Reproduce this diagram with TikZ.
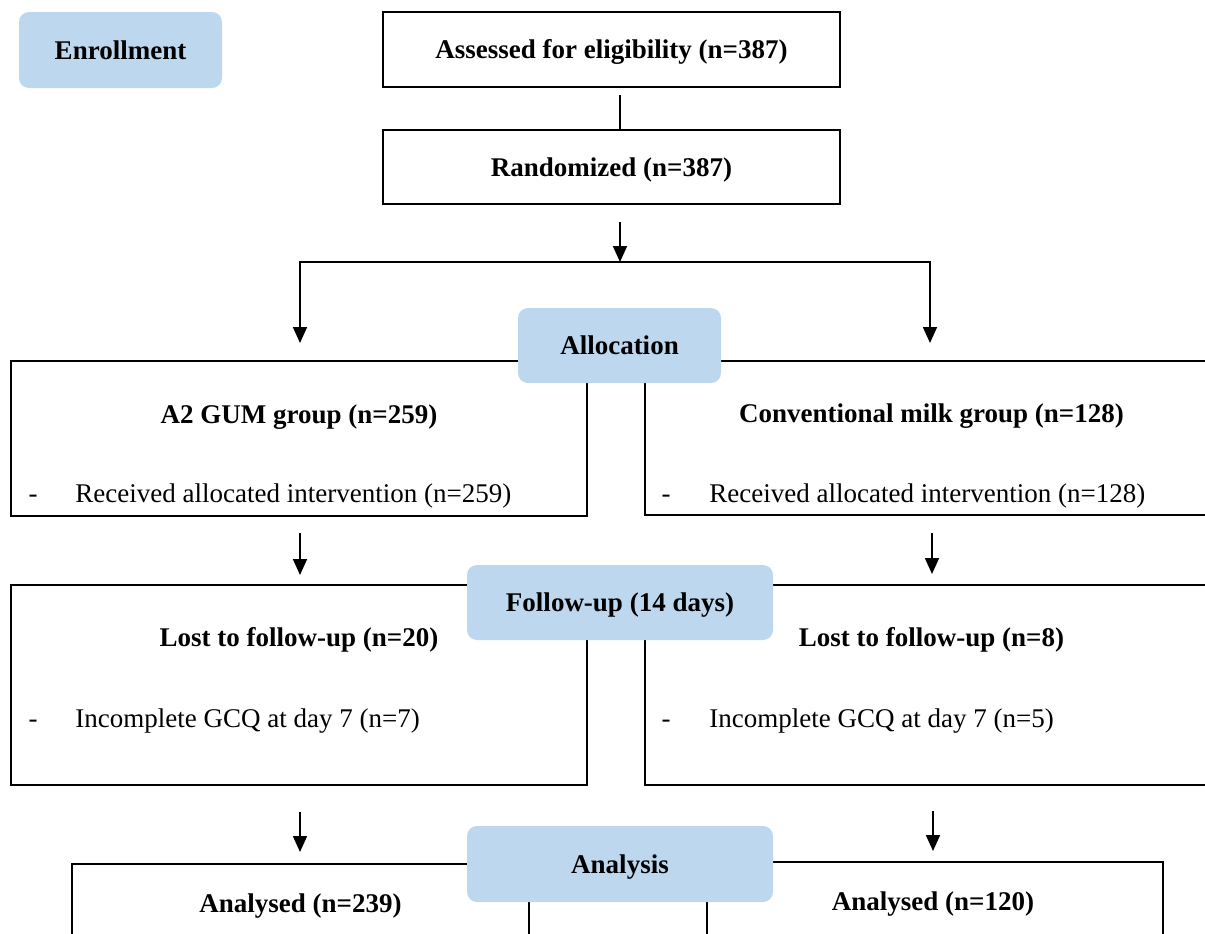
\documentclass[tikz,border=0pt]{standalone}
\usepackage{fontspec}
\setmainfont{Liberation Serif}
\usepackage{tikz}
\usetikzlibrary{arrows.meta}
\definecolor{stageblue}{HTML}{BDD7EE}
\tikzset{
  stage/.style={fill=stageblue,rounded corners=5pt,font=\fontsize{13.5}{16}\selectfont\bfseries,text height=11pt,text depth=2pt},
  frame/.style={draw,line width=1pt,inner sep=0pt,font=\fontsize{13.5}{16}\selectfont\bfseries,text height=11pt,text depth=2pt},
  title/.style={anchor=base,font=\fontsize{13.5}{16}\selectfont\bfseries},
  item/.style={anchor=base west,inner sep=0pt,font=\fontsize{13.5}{16}\selectfont},
  bullet/.style={anchor=base,inner sep=0pt,font=\fontsize{13.5}{16}\selectfont},
  flow/.style={line width=0.85pt,-{Triangle[length=8pt,width=7pt]}},
  link/.style={line width=0.85pt}
}

\begin{document}
\begin{tikzpicture}[x=0.5pt,y=-0.5pt]
        \useasboundingbox (0,0) rectangle (1205,933);

        \coordinate (enrol) at (120.5,50);
        \coordinate (assess) at (611.5,49.5);
        \coordinate (random) at (611.5,167);
        \coordinate (alloc) at (619.5,345.5);
        \coordinate (follow) at (620,602.5);
        \coordinate (analys) at (620,864);

        % group boxes
        \node[frame,minimum width=288pt,minimum height=77.5pt] (gumbox) at (299,438.5) {};
        \node[frame,minimum width=286.5pt,minimum height=77pt] (milkbox) at (931.5,438) {};
        \node[frame,minimum width=288pt,minimum height=100pt] (gumlost) at (299,685) {};
        \node[frame,minimum width=286.5pt,minimum height=100pt] (milklost) at (931.5,685) {};
        \node[frame,minimum width=228.5pt,minimum height=73pt] (gumdone) at (300.5,937) {};
        \node[frame,minimum width=228pt,minimum height=74pt] (milkdone) at (935,936) {};

        \node[frame,minimum width=228.5pt,minimum height=37.5pt] (Assessed) at (assess) {Assessed for eligibility (n=387)};
        \node[frame,minimum width=228.5pt,minimum height=37pt] (Randomized) at (random) {Randomized (n=387)};

        % stage labels
        \node[stage,minimum width=101.5pt,minimum height=38pt] (Enrollment) at (enrol) {Enrollment};
        \node[stage,minimum width=101.5pt,minimum height=37.5pt] (Allocation) at (alloc) {Allocation};
        \node[stage,minimum width=153pt,minimum height=37.5pt] (FollowUp) at (follow) {Follow-up (14 days)};
        \node[stage,minimum width=153pt,minimum height=38pt] (Analysis) at (analys) {Analysis};

        % box texts
        \node[title] (gumtitle) at (299,423) {A2 GUM group (n=259)};
        \node[title] (milktitle) at (931.5,422) {Conventional milk group (n=128)};
        \node[bullet] (gumdash) at (33,502) {-};
        \node[item] (gumitem) at (75,502) {Received allocated intervention (n=259)};
        \node[bullet] (milkdash) at (666,502) {-};
        \node[item] (milkitem) at (709,502) {Received allocated intervention (n=128)};

        \node[title] (gumlosttitle) at (299,646) {Lost to follow-up (n=20)};
        \node[title] (milklosttitle) at (931.5,646) {Lost to follow-up (n=8)};
        \node[bullet] (gumlostdash) at (33,727) {-};
        \node[item] (gumlostitem) at (75,727) {Incomplete GCQ at day 7 (n=7)};
        \node[bullet] (milklostdash) at (666,727) {-};
        \node[item] (milklostitem) at (709,727) {Incomplete GCQ at day 7 (n=5)};

        \node[title] (gumdonetitle) at (300.5,912) {Analysed (n=239)};
        \node[title] (milkdonetitle) at (933,910) {Analysed (n=120)};

        % connectors
        \coordinate (a0) at (620,95);
        \coordinate (a1) at (620,222);
        \coordinate (split) at (620,262);
        \coordinate (l0) at (300,343);
        \coordinate (r0) at (930,343);
        \coordinate (l1) at (300,533);
        \coordinate (l2) at (300,575);
        \coordinate (r1) at (932,533);
        \coordinate (r2) at (932,574);
        \coordinate (l3) at (300,812);
        \coordinate (l4) at (300,852);
        \coordinate (r3) at (933,811);
        \coordinate (r4) at (933,851);

        \draw[link] (a0) -- (a0 |- Randomized.north);
        \draw[flow] (a1) -- (split);
        \draw[flow] (split) -| (l0);
        \draw[flow] (split) -| (r0);
        \draw[flow] (l1) -- (l2);
        \draw[flow] (r1) -- (r2);
        \draw[flow] (l3) -- (l4);
        \draw[flow] (r3) -- (r4);
    \end{tikzpicture}
\end{document}
